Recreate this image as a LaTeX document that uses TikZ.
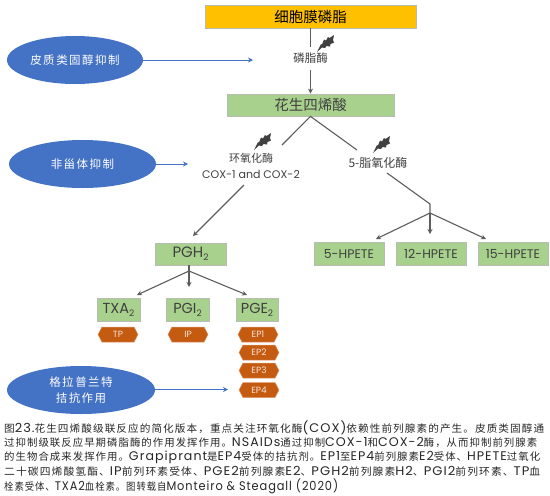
\documentclass[tikz,border=0pt]{standalone}
\usepackage{fontspec}
\usetikzlibrary{arrows.meta,shapes.geometric,shapes.symbols}
\setmainfont{Poppins}
\newfontfamily\cjk{Noto Sans CJK SC}
\newfontfamily\cjkwide[LetterSpace=13]{Noto Sans CJK SC}
\newfontfamily\cjkcap[LetterSpace=10]{Noto Sans CJK SC}
\newfontfamily\latcap[LetterSpace=8]{Poppins}
\newcommand{\zh}[1]{{\cjk #1}}
\newcommand{\la}[1]{{\latcap\fontsize{12.5}{12.5}\selectfont #1}}
\newcommand{\subtwo}{\raisebox{-3pt}{\fontsize{9}{9}\selectfont 2}}
\newcommand{\capfit}[2]{\resizebox{#1pt}{\height}{#2}}
\definecolor{ink}{HTML}{404040}
\definecolor{leaf}{HTML}{A9D18E}
\definecolor{gold}{HTML}{FFC000}
\definecolor{rust}{HTML}{C55A11}
\definecolor{azure}{HTML}{4472C4}
\definecolor{edgegrey}{HTML}{B8BDB4}
\tikzset{
  x=1pt,y=-1pt,
  greenbox/.style={draw=edgegrey,line width=.8pt,fill=leaf,inner sep=0pt,text=ink,font=\fontsize{14.5}{14.5}\selectfont},
  hpete/.style={greenbox,minimum width=70pt,minimum height=23pt,font=\fontsize{12.5}{12.5}\selectfont},
  goldbox/.style={draw=edgegrey,line width=.8pt,fill=gold,inner sep=0pt,text=black},
  recep/.style={shape=signal,signal to=east and west,signal pointer angle=125,draw=rust!60,line width=.5pt,fill=rust,inner sep=0pt,minimum width=40pt,minimum height=15pt,text=white!85!rust,font=\fontsize{9}{9}\selectfont},
  drug/.style={ellipse,fill=azure,inner sep=0pt,text=white,align=center,font=\cjkwide\fontsize{11.5}{16}\selectfont},
  enzyme/.style={inner sep=0pt,text=ink,align=center},
  blueline/.style={draw=azure,line width=1pt,-{Stealth[length=5pt,width=5pt]}},
  greyline/.style={draw=ink!85,line width=1.1pt},
  greyarrow/.style={greyline,-{Stealth[length=5pt,width=5pt]}},
  capline/.style={anchor=west,inner sep=0pt,text=black!85,font=\cjkcap\fontsize{10.3}{10.3}\selectfont},
  bolt/.pic={\fill[ink] (0,17)--(4,9)--(5,9.5)--(7,4.5)--(9,5.5)--(11,2)--(12.5,3)--(17,0)--(16,5)--(17,7.5)--(13.5,9)--(13,11.5)--(9.5,11)--(8,13)--(5,12.5)--cycle;}
}
\begin{document}
\begin{tikzpicture}
\useasboundingbox (0,0) rectangle (550,496);
% main boxes
\node[goldbox,minimum width=211pt,minimum height=23pt] (mem) at (310.5,16.5) {\cjk\fontsize{14.5}{14.5}\selectfont 细胞膜磷脂};
\node[greenbox,minimum width=167pt,minimum height=22pt] (aa) at (310.5,105) {\cjk\fontsize{14.5}{14.5}\selectfont 花生四烯酸};
\node[enzyme,minimum height=23pt,font=\cjk\fontsize{11.5}{11.5}\selectfont] (pla) at (310.5,58.5) {磷脂酶};
\node[enzyme,font=\fontsize{11}{15.5}\selectfont] (cox) at (251,166) {\zh{环氧化酶}\\COX-1 and COX-2};
\node[enzyme,font=\cjk\fontsize{12}{12}\selectfont] (lox) at (378,163) {5-脂氧化酶};
% drugs
\node[drug,minimum width=136pt,minimum height=48pt] (d1) at (75,60) {皮质类固醇抑制};
\node[drug,minimum width=147pt,minimum height=48pt] (d2) at (82.5,164) {非甾体抑制};
\node[drug,minimum width=148pt,minimum height=48pt] (d3) at (81,390) {格拉普兰特\\拮抗作用};
\coordinate (d1e) at (253,60);
\coordinate (d2e) at (188,164);
\coordinate (d3e) at (228,389.5);
\draw[blueline] (d1.east) -- (d1e);
\draw[blueline] (d2.east) -- (d2e);
\draw[blueline] (d3.east |- d3e) -- (d3e);
% products
\node[greenbox,minimum width=71pt,minimum height=22pt,font=\fontsize{15}{15}\selectfont] (pgh) at (190.5,254) {PGH\subtwo};
\node[greenbox,minimum width=43pt,minimum height=23pt] (txa) at (118.5,309.5) {TXA\subtwo};
\node[greenbox,minimum width=43pt,minimum height=23pt] (pgi) at (187.5,309.5) {PGI\subtwo};
\node[greenbox,minimum width=42pt,minimum height=23pt] (pge) at (257,309.5) {PGE\subtwo};
\node[hpete] (h5) at (349,253.5) {5-HPETE};
\node[hpete] (h12) at (431,253.5) {12-HPETE};
\node[hpete] (h15) at (513,253.5) {15-HPETE};
% receptors
\node[recep] (tp) at (118,334.5) {TP};
\node[recep] (ip) at (188,334.5) {IP};
\node[recep] (ep1) at (258,334.5) {EP1};
\node[recep] (ep2) at (259,352.5) {EP2};
\node[recep] (ep3) at (259,370.5) {EP3};
\node[recep] (ep4) at (259,390) {EP4};
% connectors
\draw[greyline] (mem.south -| pla) -- (pla.north);
\draw[greyarrow] (pla.south) -- (aa.north -| pla);
\coordinate (coxin) at (282,145);
\coordinate (loxin) at (357,150);
\draw[greyline] (coxin) -- (aa.south) -- (loxin);
\coordinate (coxout) at (244,185);
\coordinate (pghin) at (193,236);
\draw[greyarrow] (coxout) -- (pghin);
\coordinate (loxout) at (387,173);
\coordinate (bend) at (430,204);
\coordinate (jh) at (430,213);
\draw[greyline] (loxout) -- (bend) -- (jh);
\coordinate (a5) at (376,239);
\coordinate (a12) at (430,234);
\coordinate (a15) at (486,239);
\draw[greyarrow] (jh) -- (a5);
\draw[greyarrow] (jh) -- (a12);
\draw[greyarrow] (jh) -- (a15);
\coordinate (jp) at (189,271);
\coordinate (atx) at (137,295);
\coordinate (api) at (189,287);
\coordinate (apg) at (247,295);
\draw[greyline] (pgh.south -| jp) -- (jp);
\draw[greyarrow] (jp) -- (atx);
\draw[greyarrow] (jp) -- (api);
\draw[greyarrow] (jp) -- (apg);
% bolts
\pic at (317,35) {bolt};
\pic at (254,133) {bolt};
\pic at (373,136) {bolt};
% caption
\node[capline] (c1) at (4,428) {\capfit{540}{图\la{23.}花生四烯酸级联反应的简化版本，重点关注环氧化酶\la{(COX)}依赖性前列腺素的产生。皮质类固醇通}};
\node[capline] (c2) at (4,442.5) {\capfit{533}{过抑制级联反应早期磷脂酶的作用发挥作用。\la{NSAIDs}通过抑制\la{COX-1}和\la{COX-2}酶，从而抑制前列腺素}};
\node[capline] (c3) at (4,457) {\capfit{536}{的生物合成来发挥作用。\la{Grapiprant}是\la{EP4}受体的拮抗剂。\la{EP1}至\la{EP4}前列腺素\la{E2}受体、\la{HPETE}过氧化}};
\node[capline] (c4) at (4,471.5) {\capfit{536}{二十碳四烯酸氢酯、\la{IP}前列环素受体、\la{PGE2}前列腺素\la{E2}、\la{PGH2}前列腺素\la{H2}、\la{PGI2}前列环素、\la{TP}血}};
\node[capline] (c5) at (4,486) {\capfit{334}{栓素受体、\la{TXA2}血栓素。图转载自\la{Monteiro \& Steagall (2020)}}};
\end{tikzpicture}
\end{document}
